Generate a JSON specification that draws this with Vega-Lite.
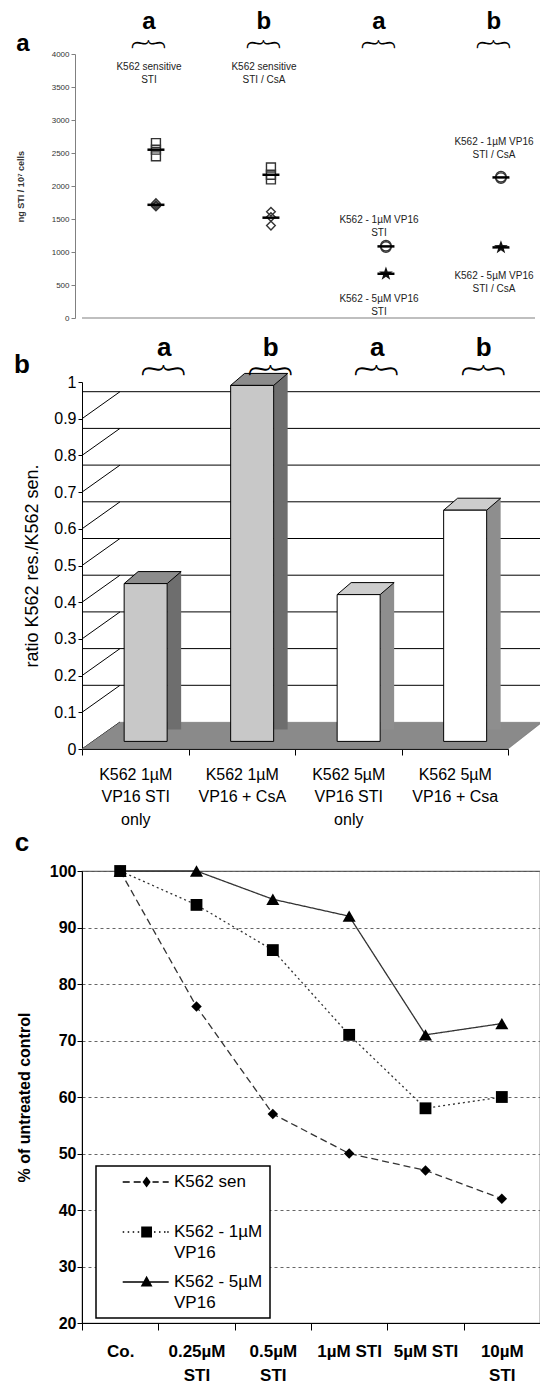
{
  "$schema": "https://vega.github.io/schema/vega-lite/v6.json",
  "background": "#ffffff",
  "padding": {"left": 14, "top": 10, "right": 0, "bottom": 0},
  "config": {
    "font": "Liberation Sans",
    "view": {"stroke": null},
    "axis": {"domainColor": "#000", "tickColor": "#000", "labelColor": "#000", "titleColor": "#000", "grid": false, "labelFont": "Liberation Sans", "titleFont": "Liberation Sans"},
    "axisY": {"labelOverlap": false},
    "legend": {"labelFont": "Liberation Sans"}
  },
  "datasets": {
    "aPoints": [
      {"grp": "sensitive STI", "v": 2650, "kind": "square"},
      {"grp": "sensitive STI", "v": 2550, "kind": "square"},
      {"grp": "sensitive STI", "v": 2450, "kind": "square"},
      {"grp": "sensitive STI", "v": 1740, "kind": "diamond"},
      {"grp": "sensitive STI", "v": 1710, "kind": "diamond"},
      {"grp": "sensitive STI", "v": 1690, "kind": "diamond"},
      {"grp": "sensitive STI / CsA", "v": 2280, "kind": "square"},
      {"grp": "sensitive STI / CsA", "v": 2170, "kind": "square"},
      {"grp": "sensitive STI / CsA", "v": 2100, "kind": "square"},
      {"grp": "sensitive STI / CsA", "v": 1610, "kind": "diamond"},
      {"grp": "sensitive STI / CsA", "v": 1530, "kind": "diamond"},
      {"grp": "sensitive STI / CsA", "v": 1400, "kind": "diamond"},
      {"grp": "resistant STI", "v": 1095, "kind": "circle"},
      {"grp": "resistant STI", "v": 1075, "kind": "circle"},
      {"grp": "resistant STI", "v": 670, "kind": "star"},
      {"grp": "resistant STI / CsA", "v": 2140, "kind": "circle"},
      {"grp": "resistant STI / CsA", "v": 2120, "kind": "circle"},
      {"grp": "resistant STI / CsA", "v": 1070, "kind": "star"}
    ],
    "aMeans": [
      {"grp": "sensitive STI", "v": 2550},
      {"grp": "sensitive STI", "v": 1715},
      {"grp": "sensitive STI / CsA", "v": 2170},
      {"grp": "sensitive STI / CsA", "v": 1520},
      {"grp": "resistant STI", "v": 1085},
      {"grp": "resistant STI", "v": 670},
      {"grp": "resistant STI / CsA", "v": 2130},
      {"grp": "resistant STI / CsA", "v": 1070}
    ],
    "aLabels": [
      {"grp": "sensitive STI", "v": 3809, "text": ["K562 sensitive", "STI"]},
      {"grp": "sensitive STI / CsA", "v": 3809, "text": ["K562 sensitive", "STI / CsA"]},
      {"grp": "resistant STI", "v": 1485, "text": ["K562 - 1µM VP16", "STI"]},
      {"grp": "resistant STI", "v": 294, "text": ["K562 - 5µM VP16", "STI"]},
      {"grp": "resistant STI / CsA", "v": 2673, "text": ["K562 - 1µM VP16", "STI / CsA"]},
      {"grp": "resistant STI / CsA", "v": 640, "text": ["K562 - 5µM VP16", "STI / CsA"]}
    ],
    "aGroups": [
      {"grp": "sensitive STI", "sig": "a"},
      {"grp": "sensitive STI / CsA", "sig": "b"},
      {"grp": "resistant STI", "sig": "a"},
      {"grp": "resistant STI / CsA", "sig": "b"}
    ],
    "bBars": [
      {"cond": "K562 1µM\nVP16 STI\nonly", "ratio": 0.43, "line": "1µM", "sig": "a"},
      {"cond": "K562 1µM\nVP16 + CsA", "ratio": 0.97, "line": "1µM", "sig": "b"},
      {"cond": "K562 5µM\nVP16 STI\nonly", "ratio": 0.40, "line": "5µM", "sig": "a"},
      {"cond": "K562 5µM\nVP16 + Csa", "ratio": 0.63, "line": "5µM", "sig": "b"}
    ],
    "bGrid": [{"g": 0.1}, {"g": 0.2}, {"g": 0.3}, {"g": 0.4}, {"g": 0.5}, {"g": 0.6}, {"g": 0.7}, {"g": 0.8}, {"g": 0.9}],
    "bDiag": [{"g": 0}, {"g": 0.1}, {"g": 0.2}, {"g": 0.3}, {"g": 0.4}, {"g": 0.5}, {"g": 0.6}, {"g": 0.7}, {"g": 0.8}, {"g": 0.9}],
    "cData": [
      {"series": "K562 sen", "dose": "Co.", "pct": 100},
      {"series": "K562 sen", "dose": "0.25µM\nSTI", "pct": 76},
      {"series": "K562 sen", "dose": "0.5µM\nSTI", "pct": 57},
      {"series": "K562 sen", "dose": "1µM STI", "pct": 50},
      {"series": "K562 sen", "dose": "5µM STI", "pct": 47},
      {"series": "K562 sen", "dose": "10µM\nSTI", "pct": 42},
      {"series": "K562 - 1µM\nVP16", "dose": "Co.", "pct": 100},
      {"series": "K562 - 1µM\nVP16", "dose": "0.25µM\nSTI", "pct": 94},
      {"series": "K562 - 1µM\nVP16", "dose": "0.5µM\nSTI", "pct": 86},
      {"series": "K562 - 1µM\nVP16", "dose": "1µM STI", "pct": 71},
      {"series": "K562 - 1µM\nVP16", "dose": "5µM STI", "pct": 58},
      {"series": "K562 - 1µM\nVP16", "dose": "10µM\nSTI", "pct": 60},
      {"series": "K562 - 5µM\nVP16", "dose": "Co.", "pct": 100},
      {"series": "K562 - 5µM\nVP16", "dose": "0.25µM\nSTI", "pct": 100},
      {"series": "K562 - 5µM\nVP16", "dose": "0.5µM\nSTI", "pct": 95},
      {"series": "K562 - 5µM\nVP16", "dose": "1µM STI", "pct": 92},
      {"series": "K562 - 5µM\nVP16", "dose": "5µM STI", "pct": 71},
      {"series": "K562 - 5µM\nVP16", "dose": "10µM\nSTI", "pct": 73}
    ]
  },
  "spacing": 64,
  "bounds": "flush",
  "resolve": {"scale": {"strokeDash": "independent"}, "legend": {"strokeDash": "independent"}},
  "vconcat": [
    {
      "width": 460,
      "height": 264,
      "layer": [
        {
          "data": {"values": [{}]},
          "mark": {"type": "rule", "color": "#808080", "strokeWidth": 1.2, "xOffset": -7},
          "encoding": {"y": {"datum": 0, "type": "quantitative", "scale": {"domain": [0, 4000]},
            "axis": {"title": "ng STI / 10⁷ cells", "values": [0, 500, 1000, 1500, 2000, 2500, 3000, 3500, 4000], "tickCount": 9, "format": "d", "labelOverlap": false, "labelFontSize": 8, "labelColor": "#333", "tickSize": 4, "tickColor": "#808080", "domainColor": "#808080", "titleFontSize": 9, "titleFontWeight": "bold", "titleColor": "#333", "titlePadding": 26, "offset": 7, "labelPadding": 2}}}
        },
        {
          "data": {"name": "aPoints"},
          "transform": [{"filter": "datum.kind === 'square'"}],
          "mark": {"type": "point", "shape": "square", "filled": false, "stroke": "#333", "strokeWidth": 1.4, "size": 80, "opacity": 1},
          "encoding": {
            "x": {"field": "grp", "type": "nominal", "scale": {"type": "point", "domain": ["sensitive STI", "sensitive STI / CsA", "resistant STI", "resistant STI / CsA"], "paddingOuter": 0.744, "align": 0.643}, "axis": null},
            "y": {"field": "v", "type": "quantitative"}
          }
        },
        {
          "data": {"name": "aPoints"},
          "transform": [{"filter": "datum.kind === 'diamond'"}],
          "mark": {"type": "point", "shape": "diamond", "filled": false, "stroke": "#333", "strokeWidth": 1.4, "size": 75, "opacity": 1},
          "encoding": {
            "x": {"field": "grp", "type": "nominal"},
            "y": {"field": "v", "type": "quantitative"}
          }
        },
        {
          "data": {"name": "aPoints"},
          "transform": [{"filter": "datum.kind === 'circle'"}],
          "mark": {"type": "point", "shape": "circle", "filled": false, "stroke": "#333", "strokeWidth": 1.4, "size": 110, "opacity": 1},
          "encoding": {
            "x": {"field": "grp", "type": "nominal"},
            "y": {"field": "v", "type": "quantitative"}
          }
        },
        {
          "data": {"name": "aPoints"},
          "transform": [{"filter": "datum.kind === 'star'"}],
          "mark": {"type": "point", "filled": true, "color": "#111", "size": 210, "opacity": 1, "shape": "M0,-1L0.235,-0.324L0.951,-0.309L0.38,0.124L0.588,0.809L0,0.4L-0.588,0.809L-0.38,0.124L-0.951,-0.309L-0.235,-0.324Z"},
          "encoding": {
            "x": {"field": "grp", "type": "nominal"},
            "y": {"field": "v", "type": "quantitative"}
          }
        },
        {
          "data": {"name": "aMeans"},
          "mark": {"type": "tick", "color": "#000", "thickness": 2.5, "size": 17, "opacity": 1},
          "encoding": {
            "x": {"field": "grp", "type": "nominal"},
            "y": {"field": "v", "type": "quantitative"}
          }
        },
        {
          "data": {"name": "aLabels"},
          "mark": {"type": "text", "fontSize": 10, "color": "#222", "baseline": "middle", "align": "center", "lineHeight": 13.5, "dx": -7},
          "encoding": {
            "x": {"field": "grp", "type": "nominal"},
            "y": {"field": "v", "type": "quantitative"},
            "text": {"field": "text"}
          }
        },
        {
          "data": {"name": "aGroups"},
          "mark": {"type": "text", "fontSize": 24, "fontWeight": "bold", "color": "#000", "baseline": "middle", "align": "center", "dy": -32, "dx": -7},
          "encoding": {
            "x": {"field": "grp", "type": "nominal"},
            "y": {"datum": 4000},
            "text": {"field": "sig"}
          }
        },
        {
          "data": {"name": "aGroups"},
          "mark": {"type": "text", "text": "{", "angle": 90, "font": "Lato", "fontWeight": 300, "fontSize": 38, "color": "#000", "baseline": "middle", "align": "center", "dx": -10, "dy": 8},
          "encoding": {
            "x": {"field": "grp", "type": "nominal"},
            "y": {"datum": 4000}
          }
        },
        {
          "data": {"values": [{"p": "a"}]},
          "mark": {"type": "text", "fontSize": 24, "fontWeight": "bold", "baseline": "middle", "align": "center", "dx": -59, "dy": -10},
          "encoding": {"x": {"value": 0}, "y": {"datum": 4000}, "text": {"field": "p"}}
        }
      ]
    },
    {
      "spacing": 122,
      "bounds": "flush",
      "resolve": {"scale": {"strokeDash": "independent"}, "legend": {"strokeDash": "independent"}},
      "vconcat": [
        {
          "width": 426,
          "height": 367,
          "layer": [
            {
              "data": {"name": "bGrid"},
              "mark": {"type": "rule", "color": "#000", "strokeWidth": 1, "xOffset": 38, "x2Offset": 34, "yOffset": -27},
              "encoding": {"y": {"field": "g", "type": "quantitative", "scale": {"domain": [0, 1]},
                "axis": {"title": "ratio K562 res./K562 sen.", "values": [0, 0.1, 0.2, 0.3, 0.4, 0.5, 0.6, 0.7, 0.8, 0.9, 1], "tickCount": 11, "format": "~g", "labelOverlap": false, "labelFontSize": 16, "tickSize": 4, "labelPadding": 2, "titleFontSize": 18, "titleFontWeight": "normal", "titlePadding": 12}}}
            },
            {
              "data": {"name": "bDiag"},
              "mark": {"type": "rule", "color": "#000", "strokeWidth": 1, "y2Offset": -27},
              "encoding": {"x": {"value": 0}, "x2": {"value": 38}, "y": {"field": "g", "type": "quantitative"}, "y2": {"field": "g"}}
            },
            {
              "data": {"values": [{"f": 0}]},
              "mark": {"type": "point", "shape": "M-1,0.058L0.852,0.058L1,-0.058L-0.835,-0.058Z", "size": 211600, "filled": true, "fill": "#8a8a8a", "stroke": "#6a6a6a", "strokeWidth": 0.5, "opacity": 1, "xOffset": 17, "yOffset": -13.35},
              "encoding": {"y": {"field": "f", "type": "quantitative"}}
            },
            {
              "data": {"name": "bBars"},
              "mark": {"type": "bar", "width": 14, "xOffset": 38.9, "yOffset": -19.6, "y2Offset": -19.6},
              "encoding": {
                "x": {"field": "cond", "type": "nominal", "scale": {"domain": ["K562 1µM\nVP16 STI\nonly", "K562 1µM\nVP16 + CsA", "K562 5µM\nVP16 STI\nonly", "K562 5µM\nVP16 + Csa"], "paddingInner": 0, "paddingOuter": 0},
                  "axis": {"title": null, "labelExpr": "split(datum.label, '\\n')", "labelFontSize": 16, "labelLineHeight": 22.5, "labelAngle": 0, "labelAlign": "center", "labelBaseline": "top", "labelLimit": 200, "tickBand": "extent", "tickSize": 6, "labelPadding": 11}},
                "y": {"field": "ratio", "type": "quantitative"},
                "fill": {"condition": {"test": "datum.line === '1µM'", "value": "#6e6e6e"}, "value": "#8e8e8e"}
              }
            },
            {
              "data": {"name": "bBars"},
              "mark": {"type": "point", "shape": "M-1,0.2105L0.5088,0.2105L1,-0.2105L-0.5088,-0.2105Z", "size": 3249, "filled": true, "stroke": "#000", "strokeWidth": 1, "opacity": 1, "xOffset": 17.4, "yOffset": -13.6},
              "encoding": {
                "x": {"field": "cond", "type": "nominal"},
                "y": {"field": "ratio", "type": "quantitative"},
                "fill": {"condition": {"test": "datum.line === '1µM'", "value": "#8c8c8c"}, "value": "#cdcdcd"}
              }
            },
            {
              "data": {"name": "bBars"},
              "mark": {"type": "bar", "width": 43, "xOffset": 10.4, "yOffset": -7.6, "y2Offset": -7.6, "stroke": "#000", "strokeWidth": 1},
              "encoding": {
                "x": {"field": "cond", "type": "nominal"},
                "y": {"field": "ratio", "type": "quantitative"},
                "fill": {"condition": {"test": "datum.line === '1µM'", "value": "#c8c8c8"}, "value": "#ffffff"}
              }
            },
            {
              "data": {"name": "bBars"},
              "mark": {"type": "text", "fontSize": 26, "fontWeight": "bold", "color": "#000", "baseline": "middle", "align": "center", "dx": 29, "dy": -34},
              "encoding": {
                "x": {"field": "cond", "type": "nominal"},
                "y": {"datum": 1},
                "text": {"field": "sig"}
              }
            },
            {
              "data": {"name": "bBars"},
              "mark": {"type": "text", "text": "{", "angle": 90, "font": "Lato", "fontWeight": 300, "fontSize": 48, "color": "#000", "baseline": "middle", "align": "center", "dx": -12, "dy": -27},
              "encoding": {
                "x": {"field": "cond", "type": "nominal"},
                "y": {"datum": 1}
              }
            },
            {
              "data": {"values": [{"p": "b"}]},
              "mark": {"type": "text", "fontSize": 26, "fontWeight": "bold", "baseline": "middle", "align": "center", "dx": -60, "dy": -17},
              "encoding": {"x": {"value": 0}, "y": {"datum": 1}, "text": {"field": "p"}}
            }
          ]
        },
        {
          "width": 458,
          "height": 452,
          "view": {"stroke": "#555", "strokeWidth": 1.2},
          "layer": [
            {
              "data": {"name": "cData"},
              "mark": {"type": "line", "color": "#333", "strokeWidth": 1.3},
              "encoding": {
                "x": {"field": "dose", "type": "nominal", "scale": {"domain": ["Co.", "0.25µM\nSTI", "0.5µM\nSTI", "1µM STI", "5µM STI", "10µM\nSTI"], "paddingInner": 0, "paddingOuter": 0},
                  "axis": {"title": null, "labelExpr": "split(datum.label, '\\n')", "labelFontSize": 17, "labelFontWeight": "bold", "labelLineHeight": 24, "labelAngle": 0, "labelAlign": "center", "tickBand": "extent", "tickSize": 7, "labelPadding": 13}},
                "y": {"field": "pct", "type": "quantitative", "scale": {"domain": [20, 100]},
                  "axis": {"title": "% of untreated control", "values": [20, 30, 40, 50, 60, 70, 80, 90, 100], "labelOverlap": false, "labelFontSize": 16, "labelFontWeight": "bold", "tickSize": 5, "labelPadding": 1, "grid": true, "gridDash": [3, 3], "gridColor": "#666", "titleFontSize": 16, "titleFontWeight": "bold", "titlePadding": 17}},
                "strokeDash": {"field": "series", "type": "nominal",
                  "scale": {"domain": ["K562 sen", "K562 - 1µM\nVP16", "K562 - 5µM\nVP16"], "range": [[7, 4], [2, 3], [1, 0]]},
                  "legend": {
                    "orient": "none", "legendX": 14, "legendY": 295, "title": null,
                    "labelExpr": "split(datum.label, '\\n')",
                    "labelFontSize": 17, "labelBaseline": "middle", "labelOffset": 53, "labelColor": "#000",
                    "symbolSize": 324, "symbolStrokeWidth": 0, "symbolStrokeColor": "#000", "symbolFillColor": "#000",
                    "strokeColor": "#000", "fillColor": "#ffffff", "padding": 7, "rowPadding": 12, "gridAlign": "all",
                    "encode": {
                      "symbols": {"update": {
                        "shape": {"signal": "datum.index === 2 ? 'M1.189,-0.072L6.3,-0.072L6.3,0.072L1.189,0.072ZM3.844,-0.7L4.5,0.5L3.188,0.5Z' : (datum.index === 1 ? 'M1.189,-0.083L1.356,-0.083L1.356,0.083L1.189,0.083ZM1.744,-0.083L1.911,-0.083L1.911,0.083L1.744,0.083ZM2.3,-0.083L2.467,-0.083L2.467,0.083L2.3,0.083ZM2.856,-0.083L3.023,-0.083L3.023,0.083L2.856,0.083ZM4.666,-0.083L4.833,-0.083L4.833,0.083L4.666,0.083ZM5.222,-0.083L5.389,-0.083L5.389,0.083L5.222,0.083ZM5.778,-0.083L5.945,-0.083L5.945,0.083L5.778,0.083ZM6.133,-0.083L6.3,-0.083L6.3,0.083L6.133,0.083ZM3.244,-0.6L4.444,-0.6L4.444,0.6L3.244,0.6Z' : 'M1.189,-0.072L1.967,-0.072L1.967,0.072L1.189,0.072ZM2.411,-0.072L3.189,-0.072L3.189,0.072L2.411,0.072ZM4.5,-0.072L5.189,-0.072L5.189,0.072L4.5,0.072ZM5.633,-0.072L6.3,-0.072L6.3,0.072L5.633,0.072ZM3.844,-0.6L4.294,0L3.844,0.6L3.394,0Z')"},
                        "size": {"value": 324},
                        "fill": {"value": "#000"},
                        "strokeWidth": {"value": 0},
                        "opacity": {"value": 1}
                      }},
                      "labels": {"update": {"lineHeight": {"value": 20.7}}},
                      "legend": {"update": {"strokeWidth": {"value": 1.5}}}
                    }
                  }},
                "order": {"value": null}
              }
            },
            {
              "data": {"name": "cData"},
              "transform": [{"filter": "datum.series === 'K562 sen'"}],
              "mark": {"type": "point", "filled": true, "color": "#000", "opacity": 1, "shape": "diamond", "size": 110},
              "encoding": {
                "x": {"field": "dose", "type": "nominal"},
                "y": {"field": "pct", "type": "quantitative"}
              }
            },
            {
              "data": {"name": "cData"},
              "transform": [{"filter": "indexof(datum.series, '1µM') >= 0"}],
              "mark": {"type": "point", "filled": true, "color": "#000", "opacity": 1, "shape": "square", "size": 140},
              "encoding": {
                "x": {"field": "dose", "type": "nominal"},
                "y": {"field": "pct", "type": "quantitative"}
              }
            },
            {
              "data": {"name": "cData"},
              "transform": [{"filter": "indexof(datum.series, '5µM') >= 0"}],
              "mark": {"type": "point", "filled": true, "color": "#000", "opacity": 1, "shape": "triangle-up", "size": 170},
              "encoding": {
                "x": {"field": "dose", "type": "nominal"},
                "y": {"field": "pct", "type": "quantitative"}
              }
            },
            {
              "data": {"values": [{"p": "c"}]},
              "mark": {"type": "text", "fontSize": 26, "fontWeight": "bold", "baseline": "middle", "align": "center", "dx": -60, "dy": -28},
              "encoding": {"x": {"value": 0}, "y": {"datum": 100}, "text": {"field": "p"}}
            }
          ]
        }
      ]
    }
  ]
}
